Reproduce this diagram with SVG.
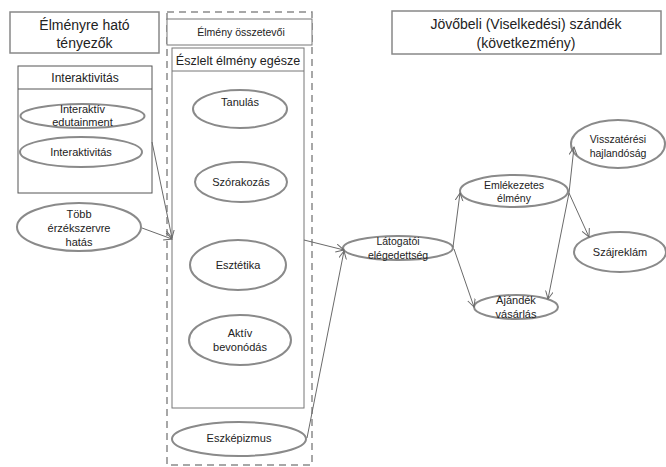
<svg xmlns="http://www.w3.org/2000/svg" width="666" height="467" viewBox="0 0 666 467">
<style>
  text { font-family: "Liberation Sans", Arial, sans-serif; fill: #222; text-anchor: middle; }
  .title { font-size: 14px; }
  .small { font-size: 11px; }
  .tbox { fill: #fff; stroke: #888; stroke-width: 1.5; }
  .box { fill: #fff; stroke: #555; stroke-width: 1; }
  .ell { fill: #fff; stroke: #8a8a8a; stroke-width: 2; }
  .dash { fill: none; stroke: #8a8a8a; stroke-width: 1.5; stroke-dasharray: 7 5; }
  .conn line { stroke: #6a6a6a; stroke-width: 1; marker-end: url(#arr); }
</style>
<defs>
  <marker id="arr" markerUnits="userSpaceOnUse" markerWidth="10" markerHeight="10" refX="8" refY="4" orient="auto">
    <path d="M0,0 L8,4 L0,8" fill="none" stroke="#6a6a6a" stroke-width="1"/>
  </marker>
</defs>
<rect width="666" height="467" fill="#fff"/>

<g id="title-left">
  <rect class="tbox" x="10" y="12" width="149" height="41"/>
  <text class="title" x="84.5" y="30">Élményre ható</text>
  <text class="title" x="84.5" y="48">tényezők</text>
</g>

<g id="title-right">
  <rect class="tbox" x="392" y="11" width="269" height="43"/>
  <text class="title" x="526" y="29">Jövőbeli (Viselkedési)  szándék</text>
  <text class="title" x="526" y="48">(következmény)</text>
</g>

<g id="elmeny-osszetevoi">
  <rect class="dash" x="167" y="12" width="145" height="453"/>
  <rect class="box" x="167" y="19" width="145" height="26" style="stroke:#777"/>
  <text x="241" y="36" style="font-size:10.5px">Élmény összetevői</text>
</g>

<g id="eszlelt-elmeny">
  <rect class="box" x="172" y="48" width="132" height="360" style="stroke:#777"/>
  <line x1="172" y1="71" x2="304" y2="71" stroke="#777" stroke-width="1"/>
  <text x="238" y="65" style="font-size:12.5px">Észlelt élmény egésze</text>
</g>

<g id="interaktivitas-box">
  <rect class="box" x="18" y="66" width="134" height="127"/>
  <line x1="18" y1="89" x2="152" y2="89" stroke="#555" stroke-width="1"/>
  <text x="85" y="82" style="font-size:12px">Interaktivitás</text>
</g>

<g id="interaktiv-edutainment">
  <ellipse class="ell" cx="82.5" cy="116" rx="62" ry="12"/>
  <text class="small" x="82.5" y="113">Interaktív</text>
  <text class="small" x="82.5" y="126">edutainment</text>
</g>

<g id="interaktivitas">
  <ellipse class="ell" cx="81" cy="152" rx="61" ry="15"/>
  <text class="small" x="81" y="156">Interaktivitás</text>
</g>

<g id="tobb-erzekszervre">
  <ellipse class="ell" cx="79" cy="227" rx="62" ry="24"/>
  <text class="small" x="79" y="218">Több</text>
  <text class="small" x="79" y="232">érzékszervre</text>
  <text class="small" x="79" y="246">hatás</text>
</g>

<g id="tanulas">
  <ellipse class="ell" cx="240" cy="109" rx="47" ry="19"/>
  <text class="small" x="240" y="106">Tanulás</text>
</g>

<g id="szorakozas">
  <ellipse class="ell" cx="241" cy="182" rx="46" ry="20"/>
  <text class="small" x="241" y="186">Szórakozás</text>
</g>

<g id="esztetika">
  <ellipse class="ell" cx="238" cy="265" rx="48" ry="25"/>
  <text class="small" x="238" y="269">Esztétika</text>
</g>

<g id="aktiv-bevonodas">
  <ellipse class="ell" cx="240" cy="340" rx="51" ry="25"/>
  <text class="small" x="240" y="337">Aktív</text>
  <text class="small" x="240" y="351">bevonódás</text>
</g>

<g id="eszkepizmus">
  <ellipse class="ell" cx="239" cy="439" rx="67" ry="17"/>
  <text class="small" x="239" y="442">Eszképizmus</text>
</g>

<g id="latogatoi-elegedettseg">
  <ellipse class="ell" cx="398" cy="248" rx="55" ry="12"/>
  <text x="398" y="245" style="font-size:10.5px">Látogatói</text>
  <text x="398" y="259" style="font-size:10.5px">elégedettség</text>
</g>

<g id="emlekezetes-elmeny">
  <ellipse class="ell" cx="514" cy="191" rx="54" ry="16"/>
  <text x="514" y="189" style="font-size:10.5px">Emlékezetes</text>
  <text x="514" y="202" style="font-size:10.5px">élmény</text>
</g>

<g id="visszateresi-hajlandosag">
  <ellipse class="ell" cx="618" cy="144" rx="47" ry="24"/>
  <text x="618" y="143" style="font-size:10.5px">Visszatérési</text>
  <text x="618" y="157" style="font-size:10.5px">hajlandóság</text>
</g>

<g id="szajreklam">
  <ellipse class="ell" cx="620" cy="252" rx="46" ry="20"/>
  <text class="small" x="620" y="256">Szájreklám</text>
</g>

<g id="ajandek-vasarlas">
  <ellipse class="ell" cx="516" cy="307" rx="42" ry="12"/>
  <text class="small" x="516" y="304">Ajándék</text>
  <text class="small" x="516" y="318">vásárlás</text>
</g>

<g id="connectors" class="conn">
  <line x1="152" y1="142" x2="172" y2="238"/>
  <line x1="142" y1="228" x2="172" y2="239"/>
  <line x1="304" y1="240" x2="344" y2="250"/>
  <line x1="307" y1="438" x2="344" y2="251"/>
  <line x1="453" y1="247" x2="460" y2="193"/>
  <line x1="454" y1="249" x2="474" y2="307"/>
  <line x1="569" y1="193" x2="574" y2="147"/>
  <line x1="569" y1="193" x2="589" y2="237"/>
  <line x1="569" y1="193" x2="548" y2="299"/>
</g>
</svg>
